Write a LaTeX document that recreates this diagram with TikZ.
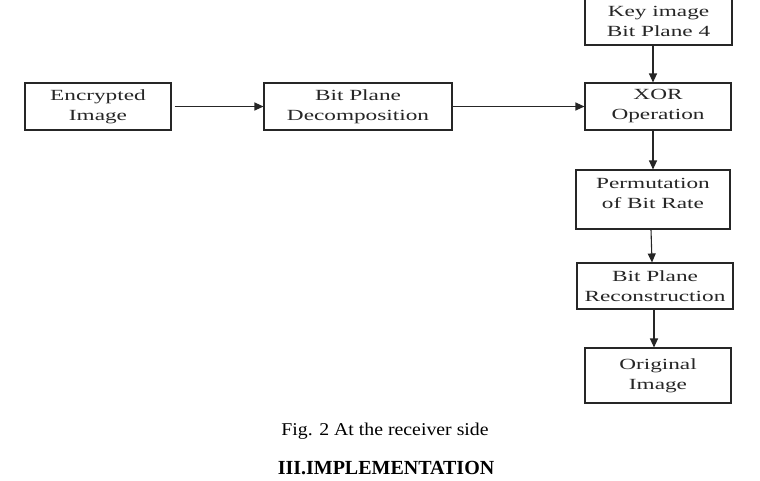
\documentclass[tikz,border=0pt]{standalone}
\usepackage{fontspec}
\setmainfont{Liberation Serif}
\newfontfamily\boxfont[FakeStretch=1.5]{Liberation Serif}
\newfontfamily\capfont[FakeStretch=1.1]{Liberation Serif}
\usetikzlibrary{arrows.meta}
\begin{document}
\begin{tikzpicture}[x=1pt,y=-1pt,
  blk/.style={draw=black!85,line width=1.1pt,align=center,inner sep=0pt,
    font=\boxfont\fontsize{15.5}{20}\selectfont,text=black!85},
  flow/.style={draw=black!85,line width=1.1pt,-{Triangle[length=9pt,width=8pt]}}]
\clip (0,0) rectangle (760,480);
\fill[white] (0,0) rectangle (760,480);
\node[blk,minimum width=146pt,minimum height=47pt] (enc) at (98,106.5) {Encrypted\\Image};
\node[blk,minimum width=188pt,minimum height=47pt] (bpd) at (358,106.5) {Bit Plane\\Decomposition};
\node[blk,minimum width=147pt,minimum height=48pt] (key) at (658.5,21) {Key image\\Bit Plane 4};
\node[blk,minimum width=146pt,minimum height=47pt] (xor) at (658,106.5) {XOR\\Operation};
\node[blk,minimum width=154pt,minimum height=59pt] (perm) at (653,199.5) {Permutation\\of Bit Rate\\[-8pt]};
\node[blk,minimum width=156pt,minimum height=46pt] (bpr) at (655,286) {Bit Plane\\Reconstruction};
\node[blk,minimum width=146pt,minimum height=55pt] (orig) at (658,375.5) {Original\\Image};
\draw[flow] ([xshift=3pt]enc.east) -- (bpd.west);
\draw[flow] (bpd.east) -- (xor.west);
\draw[flow] ([xshift=-5.5pt]key.south) -- ([xshift=-5pt]xor.north);
\draw[flow] ([xshift=-5pt]xor.south) -- (perm.north);
\draw[flow] ([xshift=-2pt]perm.south) -- ([xshift=-3pt]bpr.north);
\draw[flow] ([xshift=-1pt]bpr.south) -- ([xshift=-4pt]orig.north);
\node[font=\capfont\fontsize{18}{20}\selectfont,inner sep=0pt] (cap) at (385,431) {Fig. 2 At the receiver side};
\node[font=\bfseries\fontsize{20}{22}\selectfont,inner sep=0pt,anchor=base] (sec) at (386,474) {III.IMPLEMENTATION};
\end{tikzpicture}
\end{document}
